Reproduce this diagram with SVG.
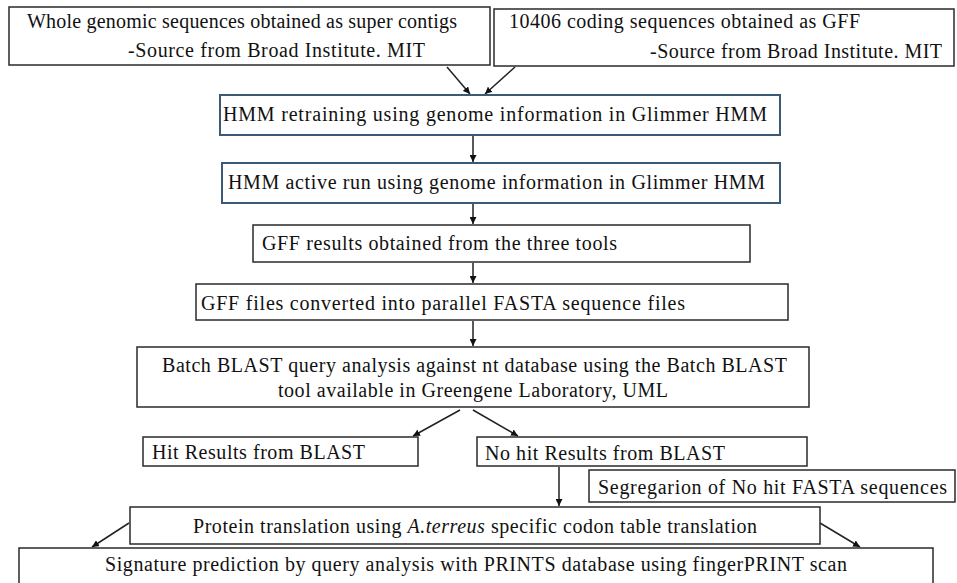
<svg xmlns="http://www.w3.org/2000/svg" width="957" height="583" viewBox="0 0 957 583">
<style>
.bx{fill:#ffffff;stroke:#2a2a2a;stroke-width:1.5}
.bb{fill:#ffffff;stroke:#3b5a78;stroke-width:2}
.t{font-family:"Liberation Serif","Times New Roman",serif;font-size:20px;fill:#111}
.c{stroke:#222;stroke-width:1.5;fill:none;marker-end:url(#ah)}
</style>
<defs>
<marker id="ah" viewBox="0 0 10 10" refX="10" refY="5" markerWidth="7" markerHeight="7" markerUnits="userSpaceOnUse" orient="auto">
<path d="M0,0 L10,5 L0,10 z" fill="#111"/>
</marker>
</defs>
<rect width="957" height="583" fill="#ffffff"/>
<g id="connectors">
<line class="c" x1="447" y1="67" x2="470" y2="94"/>
<line class="c" x1="515" y1="67" x2="485" y2="94"/>
<line class="c" x1="473" y1="136" x2="473" y2="162"/>
<line class="c" x1="473" y1="204" x2="473" y2="224"/>
<line class="c" x1="473" y1="263" x2="473" y2="283"/>
<line class="c" x1="473" y1="321" x2="473" y2="346"/>
<line class="c" x1="460" y1="410" x2="413" y2="436"/>
<line class="c" x1="473" y1="410" x2="518" y2="436"/>
<line class="c" x1="559" y1="467" x2="559" y2="506"/>
<line class="c" x1="129" y1="523" x2="92" y2="547"/>
<line class="c" x1="820" y1="523" x2="860" y2="547"/>
</g>
<g id="n1"><rect class="bx" x="9" y="7" width="481" height="58"/>
<text class="t" x="27" y="28" textLength="430">Whole genomic sequences obtained as super contigs</text>
<text class="t" x="128" y="57" textLength="297">-Source from Broad Institute. MIT</text></g>
<g id="n2"><rect class="bx" x="494" y="9" width="460" height="57"/>
<text class="t" x="509" y="28" textLength="351">10406 coding sequences obtained as GFF</text>
<text class="t" x="650" y="58" textLength="292">-Source from Broad Institute. MIT</text></g>
<g id="n3"><rect class="bb" x="220" y="95" width="560" height="40"/>
<text class="t" x="223" y="121" textLength="544">HMM retraining using genome information in Glimmer HMM</text></g>
<g id="n4"><rect class="bb" x="222" y="163" width="558" height="40"/>
<text class="t" x="228" y="189" textLength="537">HMM active run using genome information in Glimmer HMM</text></g>
<g id="n5"><rect class="bx" x="253" y="225" width="497" height="37"/>
<text class="t" x="262" y="250" textLength="355">GFF results obtained from the three tools</text></g>
<g id="n6"><rect class="bx" x="196" y="284" width="592" height="36"/>
<text class="t" x="201" y="310" textLength="484">GFF files converted into parallel FASTA sequence files</text></g>
<g id="n7"><rect class="bx" x="137" y="347" width="672" height="60"/>
<text class="t" x="162" y="372" textLength="625">Batch BLAST query analysis against nt database using the Batch BLAST</text>
<text class="t" x="278" y="397" textLength="390">tool available in Greengene Laboratory, UML</text></g>
<g id="n8"><rect class="bx" x="143" y="437" width="275" height="29"/>
<text class="t" x="152" y="459" textLength="213">Hit Results from BLAST</text></g>
<g id="n9"><rect class="bx" x="477" y="437" width="330" height="29"/>
<text class="t" x="485" y="460" textLength="240">No hit Results from BLAST</text></g>
<g id="n10"><rect class="bx" x="589" y="470" width="366" height="32"/>
<text class="t" x="598" y="494" textLength="349">Segregarion of No hit FASTA sequences</text></g>
<g id="n11"><rect class="bx" x="130" y="507" width="690" height="37"/>
<text class="t" x="193" y="533" textLength="564">Protein translation using <tspan font-style="italic">A.terreus</tspan> specific codon table translation</text></g>
<g id="n12"><rect class="bx" x="19" y="548" width="914" height="45"/>
<text class="t" x="105" y="571" textLength="742">Signature prediction by query analysis with PRINTS database using fingerPRINT scan</text></g>
</svg>
